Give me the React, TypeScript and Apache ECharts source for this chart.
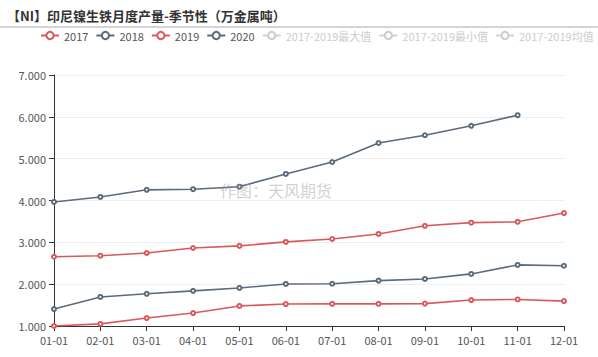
import React, { useEffect, useRef } from "react";
import * as echarts from "echarts";

const categories = ["01-01", "02-01", "03-01", "04-01", "05-01", "06-01", "07-01", "08-01", "09-01", "10-01", "11-01", "12-01"];
const s2017 = [1000, 1050, 1190, 1310, 1480, 1525, 1530, 1530, 1535, 1620, 1635, 1595];
const s2018 = [1405, 1695, 1770, 1840, 1910, 2005, 2010, 2085, 2125, 2245, 2460, 2440];
const s2019 = [2655, 2680, 2745, 2865, 2915, 3010, 3080, 3200, 3395, 3470, 3490, 3700];
const s2020: (number | null)[] = [3965, 4085, 4255, 4270, 4330, 4635, 4920, 5375, 5560, 5785, 6040, null];
const legendNames = ["2017", "2018", "2019", "2020", "2017-2019最大值", "2017-2019最小值", "2017-2019均值"];

const RED = "#d9595b";
const SLATE = "#5b6b7b";
const FONT = "'Noto Sans CJK SC', 'Noto Sans', sans-serif";

function fmt(v: number) {
  return String(Math.round(v)).replace(/\B(?=(\d{3})+(?!\d))/g, ".");
}

export default function App() {
  const ref = useRef<HTMLDivElement>(null);
  useEffect(() => {
    if (!ref.current) return;
    const chart = echarts.init(ref.current, null, { renderer: "svg" });
    const mk = (name: string, data: (number | null)[], color: string) => ({
      name,
      type: "line",
      data,
      symbol: "emptyCircle",
      symbolSize: 4,
      lineStyle: { color, width: 1.6 },
      itemStyle: { color, borderWidth: 1.2 },
      emphasis: { disabled: true },
    });
    chart.setOption({
      animation: false,
      textStyle: { fontFamily: FONT },
      title: {
        text: "【NI】印尼镍生铁月度产量-季节性（万金属吨）",
        left: 2,
        top: 4,
        textStyle: { fontSize: 13, fontWeight: "bold", color: "#333", fontFamily: FONT },
      },
      graphic: [
        { type: "line", shape: { x1: 0, y1: 27, x2: 598, y2: 27 }, style: { stroke: "#aaa", lineWidth: 1 } },
        {
          type: "text",
          left: 220,
          top: 182,
          style: { text: "作图：天风期货", fontSize: 16, fill: "rgba(150,150,150,0.45)", fontFamily: FONT },
          z: 100,
        },
      ],
      legend: {
        data: legendNames,
        top: 30,
        left: 40,
        width: 600,
        padding: 0,
        itemWidth: 18,
        itemHeight: 9,
        itemGap: 7,
        textStyle: { fontSize: 11, color: "#555", fontFamily: FONT },
        inactiveColor: "#ccc",
        selected: {
          "2017-2019最大值": false,
          "2017-2019最小值": false,
          "2017-2019均值": false,
        },
      },
      grid: { left: 54, right: 34, top: 75, bottom: 31, containLabel: false },
      xAxis: {
        type: "category",
        data: categories,
        boundaryGap: false,
        axisLine: { lineStyle: { color: "#333" } },
        axisTick: { show: true, alignWithLabel: true },
        axisLabel: { color: "#555", fontSize: 11, margin: 8 },
      },
      yAxis: {
        type: "value",
        min: 1000,
        max: 7000,
        interval: 1000,
        axisLine: { show: true, lineStyle: { color: "#333" } },
        axisTick: { show: true },
        axisLabel: { color: "#555", fontSize: 11, formatter: (v: number) => fmt(v) },
        splitLine: { lineStyle: { color: "#eee" } },
      },
      series: [
        mk("2017", s2017, RED),
        mk("2018", s2018, SLATE),
        mk("2019", s2019, RED),
        mk("2020", s2020, SLATE),
        mk("2017-2019最大值", [], "#ccc"),
        mk("2017-2019最小值", [], "#ccc"),
        mk("2017-2019均值", [], "#ccc"),
      ],
    });
    return () => chart.dispose();
  }, []);
  return <div ref={ref} style={{ width: 598, height: 357, position: "absolute", left: 0, top: 0 }} />;
}
